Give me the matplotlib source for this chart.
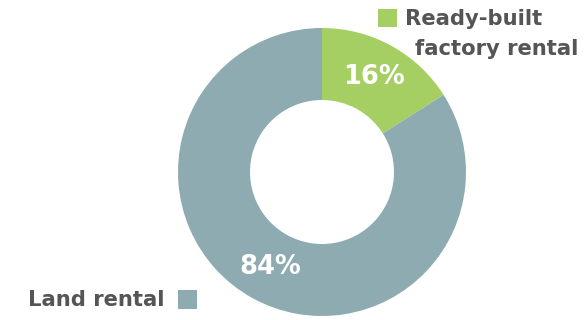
import matplotlib.pyplot as plt
from matplotlib.patches import Rectangle

# rental type shares (%)
categories = ['Ready-built\nfactory rental', 'Land rental']
shares = [16, 84]
colors = ['#a5cf63', '#8eabb2']

plt.rcParams['font.family'] = ['DejaVu Sans']

fig = plt.figure(figsize=(5.87, 3.2), dpi=100)
ax = fig.add_axes([0, 0, 1, 1])
ax.set_xlim(0, 587)
ax.set_ylim(0, 320)
ax.set_aspect('equal')
ax.axis('off')

wedges, texts, autotexts = ax.pie(
    shares, colors=colors, startangle=90, counterclock=False,
    center=(322, 148), radius=144, autopct='%d%%', pctdistance=0.75,
    wedgeprops=dict(width=72, linewidth=0),
    textprops=dict(color='white', fontsize=18.5, fontweight='bold'),
)
ax.set_xlim(0, 587)
ax.set_ylim(0, 320)

# legend-style labels next to the ring
label_color = '#555555'
ax.add_patch(Rectangle((378, 293), 19, 18, color=colors[0], linewidth=0))
ax.text(405, 301, 'Ready-built', color=label_color, fontsize=15.2,
        fontweight='bold', va='center', ha='left')
ax.text(578, 271, 'factory rental', color=label_color, fontsize=15.2,
        fontweight='bold', va='center', ha='right')

ax.add_patch(Rectangle((178, 11), 19, 19, color=colors[1], linewidth=0))
ax.text(165, 20, 'Land rental', color=label_color, fontsize=15.2,
        fontweight='bold', va='center', ha='right')

fig.savefig('out.png', dpi=100)
